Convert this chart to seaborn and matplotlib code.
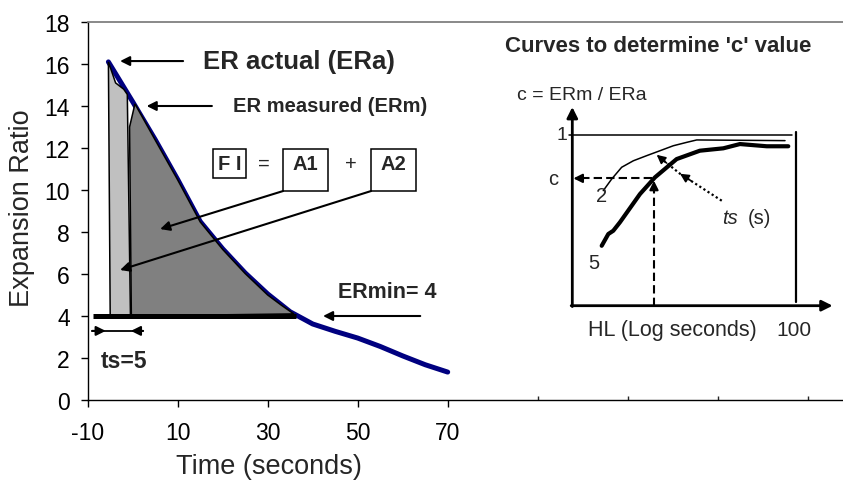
import matplotlib
matplotlib.use("Agg")
import matplotlib.pyplot as plt
import seaborn as sns

# ---------------- DATA ----------------
# ER actual (blue curve), peak onward
era_t = [-5.4, 0, 5, 10, 15, 20, 25, 30, 35, 40, 45, 50, 55, 60, 65, 70]
era_v = [16.1, 14.2, 12.4, 10.5, 8.5, 7.2, 6.05, 5.05, 4.2, 3.62, 3.27, 2.95, 2.55, 2.1, 1.68, 1.33]

# A1 region (light grey), ERa before ERm starts
a1_t = [-5.0, -5.4, -3.8, -2.0, -1.2, -0.5]
a1_v = [4.0, 16.1, 15.1, 14.8, 14.55, 4.0]

# ER measured (dark grey region A2)
erm_t = [-0.3, -0.7, 0.5, 5, 10, 15, 20, 25, 30, 33, 35.8]
erm_v = [4.0, 13.0, 14.1, 12.38, 10.48, 8.48, 7.17, 6.02, 5.0, 4.52, 4.1]

er_min = 4
er_min_t = [-8.8, 36.4]

x_ticks = [-10, 10, 30, 50, 70]
x_minor = [90, 110, 130, 150]
y_ticks = [0, 2, 4, 6, 8, 10, 12, 14, 16, 18]

# inset curves: x = log10(HL), y = c
c2_x = [0.276, 0.351, 0.440, 0.544, 0.663, 0.782, 0.900, 1.020, 1.109, 1.896]
c2_y = [0.674, 0.742, 0.811, 0.849, 0.879, 0.908, 0.937, 0.957, 0.971, 0.967]
c5_x = [0.262, 0.321, 0.365, 0.425, 0.603, 0.737, 0.930, 1.137, 1.346, 1.494, 1.733, 1.925]
c5_y = [0.351, 0.420, 0.439, 0.489, 0.654, 0.752, 0.859, 0.908, 0.922, 0.947, 0.934, 0.934]
c_read = 0.746
hl_read = 0.728

# ---------------- STYLE ----------------
sns.set_style("white")
plt.rcParams["font.family"] = ["Liberation Sans", "DejaVu Sans"]
plt.rcParams["axes.unicode_minus"] = False

fig = plt.figure(figsize=(8.43, 4.81), dpi=100)
ax = fig.add_axes([87.7 / 843, 80 / 481, (843 - 87.7) / 843, 378 / 481])

# ERa line
sns.lineplot(x=era_t, y=era_v, ax=ax, color="#000080", lw=3.6, sort=False,
             estimator=None, zorder=2)

# areas
ax.fill(a1_t, a1_v, facecolor="#c0c0c0", edgecolor="black", lw=1.1, zorder=3)
ax.fill(erm_t, erm_v, facecolor="#808080", edgecolor="black", lw=1.1, zorder=3)
ax.plot(er_min_t, [er_min, er_min], color="black", lw=3.6, zorder=4,
        solid_capstyle="butt")

ax.set_xlim(-10, 157.85)
ax.set_ylim(0, 18)
ax.set_xticks(x_ticks)
ax.set_xticks(x_minor, minor=True)
ax.set_yticks(y_ticks)
ax.tick_params(axis="both", which="major", direction="out", length=5, width=1,
               labelsize=16.5, colors="black")
ax.tick_params(axis="x", which="major", pad=10)
ax.tick_params(axis="y", which="major", pad=8)
ax.tick_params(axis="x", which="minor", direction="in", length=3, width=1)
ax.xaxis.set_ticks_position("bottom")
ax.yaxis.set_ticks_position("left")

for s in ["left", "bottom"]:
    ax.spines[s].set_color("black")
    ax.spines[s].set_linewidth(1.0)
ax.spines["top"].set_color("#808080")
ax.spines["top"].set_linewidth(1.3)
ax.spines["right"].set_visible(False)

ax.set_xlabel("Time (seconds)", fontsize=19.5)
ax.xaxis.label.set_va("center")
ax.xaxis.set_label_coords((269 - 87.7) / 755.3, -(466.7 - 401) / 378)
ax.set_ylabel("Expansion Ratio", fontsize=19.5)
ax.yaxis.label.set_va("center")
ax.yaxis.set_label_coords(-(87.7 - 22.5) / 755.3, (401 - 208.5) / 378)

arrow = dict(arrowstyle="-|>", color="black", lw=1.5, mutation_scale=14,
             shrinkA=0, shrinkB=0)

# labels with arrows
ax.annotate("", xy=(-2.8, 16.14), xytext=(11.2, 16.14), arrowprops=arrow)
ax.text(15.6, 16.14, "ER actual (ERa)", fontsize=18.5, fontweight="bold", va="center")
ax.annotate("", xy=(3.1, 14.0), xytext=(17.6, 14.0), arrowprops=arrow)
ax.text(22.3, 14.0, "ER measured (ERm)", fontsize=14.5, fontweight="bold", va="center")
ax.annotate("", xy=(42.3, 4.0), xytext=(63.9, 4.0), arrowprops=arrow)
ax.text(45.6, 5.19, "ERmin= 4", fontsize=15.5, fontweight="bold", va="center")

# ts=5 marker
ax.plot([-9.0, 2.3], [3.29, 3.29], color="black", lw=1.3)
ax.annotate("", xy=(-6.0, 3.29), xytext=(-9.0, 3.29), arrowprops=arrow)
ax.annotate("", xy=(-0.4, 3.29), xytext=(2.3, 3.29), arrowprops=arrow)
ax.text(-7.2, 1.86, "ts=5", fontsize=16.5, fontweight="bold", va="center")

# FI = A1 + A2
box = dict(boxstyle="square,pad=0.25", facecolor="white", edgecolor="black", lw=1.1)
ax.text(21.5, 11.27, "F I", fontsize=14.5, fontweight="bold", ha="center", va="center", bbox=box)
ax.text(29.2, 11.27, "=", fontsize=14.5, ha="center", va="center")
ax.text(48.4, 11.27, "+", fontsize=14.5, ha="center", va="center")
for x0, lab in [(33.4, "A1"), (52.96, "A2")]:
    ax.add_patch(plt.Rectangle((x0, 9.95), 9.9, 2.0, facecolor="white",
                               edgecolor="black", lw=1.1, zorder=5))
    ax.text(x0 + 4.95, 11.27, lab, fontsize=14.5, fontweight="bold",
            ha="center", va="center", zorder=6)
ax.annotate("", xy=(6.1, 8.14), xytext=(33.4, 9.95), arrowprops=arrow, zorder=6)
ax.annotate("", xy=(-2.8, 6.19), xytext=(52.96, 9.95), arrowprops=arrow, zorder=6)

# ---------------- INSET ----------------
axi = fig.add_axes([540 / 843, (481 - 345) / 481, 303 / 843, 245 / 481])
axi.set_xlim(-0.2879, 2.4127)
axi.set_ylim(-0.2244, 1.2109)
axi.axis("off")

axi_arrow = dict(arrowstyle="-|>", color="black", lw=2.0, mutation_scale=16,
                 shrinkA=0, shrinkB=0)
axi.annotate("", xy=(0, 1.164), xytext=(0, -0.005), arrowprops=axi_arrow)
axi.annotate("", xy=(2.32, 0), xytext=(-0.01, 0), arrowprops=axi_arrow)
axi.plot([-0.03, 1.955], [1, 1], color="black", lw=1.1)
axi.plot([1.995, 1.995], [0.024, 1.02], color="black", lw=1.6)

sns.lineplot(x=c2_x, y=c2_y, ax=axi, color="black", lw=1.1, sort=False, estimator=None)
sns.lineplot(x=c5_x, y=c5_y, ax=axi, color="black", lw=3.0, sort=False, estimator=None)

# dashed read-off lines
axi.plot([hl_read, hl_read], [0, c_read - 0.06], color="black", lw=1.5, dashes=(4, 2))
axi.annotate("", xy=(hl_read, c_read - 0.014), xytext=(hl_read, c_read - 0.07),
             arrowprops=dict(arrowstyle="-|>", color="black", lw=1.5,
                             mutation_scale=13, shrinkA=0, shrinkB=0))
axi.plot([hl_read - 0.02, 0.08], [c_read, c_read], color="black", lw=1.5, dashes=(4, 2))
axi.annotate("", xy=(0.01, c_read), xytext=(0.1, c_read),
             arrowprops=dict(arrowstyle="-|>", color="black", lw=1.5,
                             mutation_scale=13, shrinkA=0, shrinkB=0))

# dotted ts arrows
axi.plot([1.332, 0.96, 0.80], [0.615, 0.773, 0.858], color="black", lw=1.6,
         dashes=(1, 1.2))
axi.annotate("", xy=(0.96, 0.773), xytext=(1.06, 0.731),
             arrowprops=dict(arrowstyle="-|>", color="black", lw=1.2,
                             mutation_scale=13, shrinkA=0, shrinkB=0))
axi.annotate("", xy=(0.752, 0.884), xytext=(0.84, 0.836),
             arrowprops=dict(arrowstyle="-|>", color="black", lw=1.2,
                             mutation_scale=13, shrinkA=0, shrinkB=0))

axi.text(-0.6, 1.527, "Curves to determine 'c' value", fontsize=16,
         fontweight="bold", va="center")
axi.text(-0.495, 1.24, "c = ERm / ERa", fontsize=14, va="center")
axi.text(-0.04, 1.0, "1", fontsize=14, ha="right", va="center")
axi.text(-0.17, c_read, "c", fontsize=14.5, ha="center", va="center")
axi.text(0.262, 0.644, "2", fontsize=14.5, ha="center", va="center")
axi.text(0.193, 0.254, "5", fontsize=14.5, ha="center", va="center")
axi.text(1.332, 0.518, "ts", fontsize=14.5, style="italic", va="center")
axi.text(1.566, 0.518, "(s)", fontsize=14.5, va="center")
axi.text(0.143, -0.137, "HL (Log seconds)", fontsize=15.5, va="center")
axi.text(1.815, -0.142, "100", fontsize=15, va="center")

fig.savefig("out.png", dpi=100)
plt.close(fig)
